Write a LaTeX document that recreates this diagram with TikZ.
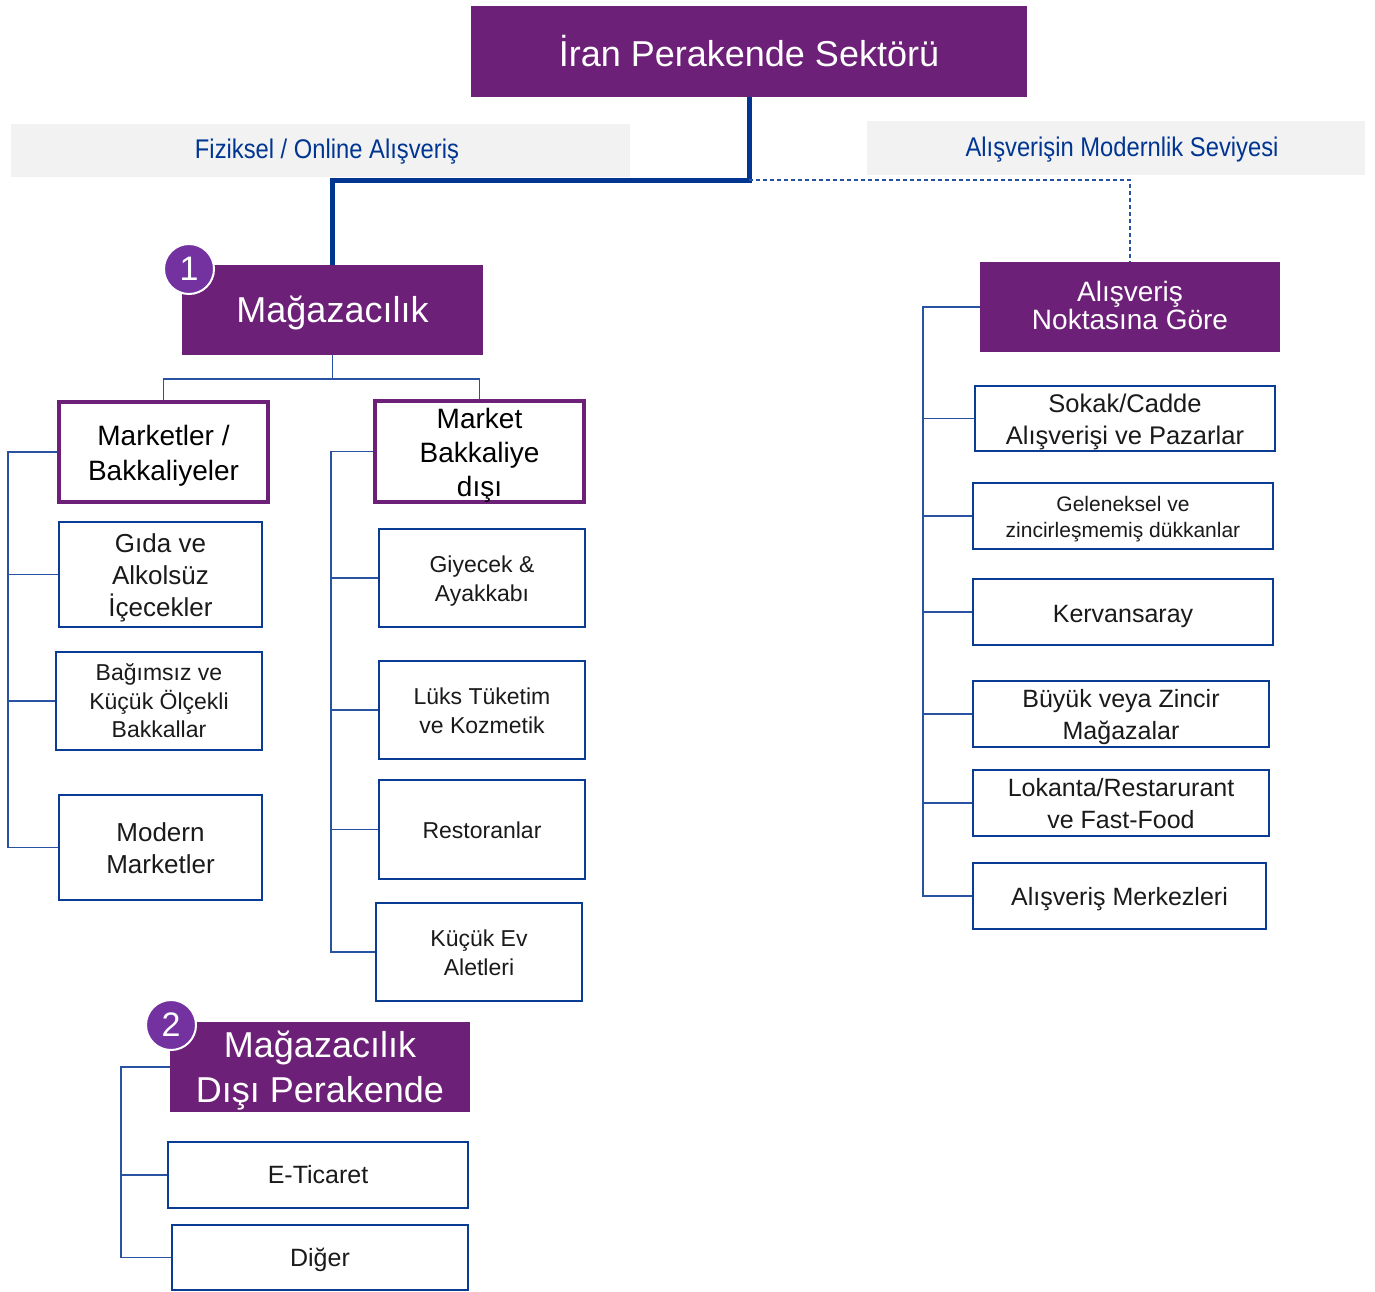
\documentclass[tikz,border=0pt]{standalone}
\usepackage{fontspec}
\setmainfont{Liberation Sans}
\newfontfamily\narrowfont[FakeStretch=0.88]{Liberation Sans}
\definecolor{purp}{HTML}{6D2077}
\definecolor{circ}{HTML}{7332A0}
\definecolor{dblue}{HTML}{003591}
\definecolor{bord}{HTML}{0B3C93}
\definecolor{conncol}{HTML}{2A52A3}
\definecolor{bandcol}{HTML}{F2F2F2}
\definecolor{txt}{HTML}{1A1A1A}
\newcommand\fsz[2]{\fontsize{#1pt}{#2pt}\selectfont}
\begin{document}
\begin{tikzpicture}[x=1pt,y=-1pt,
  box/.style={draw=bord,line width=2pt,fill=white,inner sep=0pt},
  pbox/.style={fill=purp,inner sep=0pt},
  hbox/.style={draw=purp,line width=4.5pt,fill=white,inner sep=0pt},
  lbl/.style={align=center,inner sep=0pt,text=txt},
  wlbl/.style={align=center,inner sep=0pt,text=white},
  klbl/.style={align=center,inner sep=0pt,text=black},
  badge/.style={circle,fill=circ,draw=white,line width=2pt,minimum size=50pt,inner sep=0pt,text=white,font=\fsz{34}{34}},
  link/.style={draw=conncol,line width=1.5pt},
  bandtext/.style={inner sep=0pt,text=dblue,font=\narrowfont\fsz{27}{30}}
]
\useasboundingbox (0,0) rectangle (1375,1291);
% grey bands
\fill[bandcol] (11,124) rectangle (630,177);
\fill[bandcol] (867,121) rectangle (1365,175);
\node[bandtext] (b1) at (327,152) {Fiziksel / Online Alışveriş};
\node[bandtext] (b2) at (1122,150) {Alışverişin Modernlik Seviyesi};

% main nodes
\node[pbox, minimum width=556, minimum height=91,
  label={[wlbl,font=\fsz{36}{40},yshift=0pt]center:İran Perakende Sektörü}] (top) at (749,51.5) {};
\node[pbox, minimum width=301, minimum height=90,
  label={[wlbl,font=\fsz{36}{40},yshift=-3pt]center:Mağazacılık}] (mag) at (332.5,310) {};
\node[pbox, minimum width=300, minimum height=90,
  label={[wlbl,font=\fsz{28}{28},yshift=2pt]center:{Alışveriş\\Noktasına Göre}}] (anok) at (1130,307) {};
\node[pbox, minimum width=300, minimum height=90,
  label={[wlbl,font=\fsz{36}{45},yshift=-4pt]center:{Mağazacılık\\Dışı Perakende}}] (mdp) at (320,1067) {};

% connectors
\coordinate (jt) at (749,180);
\draw[dblue, line width=5pt] (top.south) -- (jt) -| (mag.north);
\draw[dblue!85, line width=1.5pt, dash pattern=on 4pt off 3pt] (jt) -| (anok.north);

\node[hbox, minimum width=209, minimum height=100,
  label={[klbl,font=\fsz{28}{35},yshift=-4pt]center:{Marketler /\\Bakkaliyeler}}] (mkt) at (163.5,452) {};
\node[hbox, minimum width=209, minimum height=101,
  label={[klbl,font=\fsz{28}{34},yshift=-4pt]center:{Market\\Bakkaliye\\dışı}}] (mbd) at (479.5,451.5) {};

\coordinate (jm) at (332.5,379);
\draw[link] (mag.south) -- (jm);
\draw[link] (mkt.north) |- (jm) -| (mbd.north);

% left column
\node[box, minimum width=203, minimum height=105,
  label={[lbl,font=\fsz{26}{32},yshift=-3pt]center:{Gıda ve\\Alkolsüz\\İçecekler}}] (gida) at (160.5,574.5) {};
\node[box, minimum width=206, minimum height=98,
  label={[lbl,font=\fsz{23}{28.5}]center:{Bağımsız ve\\Küçük Ölçekli\\Bakkallar}}] (bag) at (159,701) {};
\node[box, minimum width=203, minimum height=105,
  label={[lbl,font=\fsz{26}{32},yshift=-1pt]center:{Modern\\Marketler}}] (modern) at (160.5,847.5) {};

% middle column
\node[box, minimum width=206, minimum height=98,
  label={[lbl,font=\fsz{23}{29},yshift=-3pt]center:{Giyecek \&\\Ayakkabı}}] (giy) at (482,578) {};
\node[box, minimum width=206, minimum height=98,
  label={[lbl,font=\fsz{23}{29},yshift=-1pt]center:{Lüks Tüketim\\ve Kozmetik}}] (luks) at (482,710) {};
\node[box, minimum width=206, minimum height=99,
  label={[lbl,font=\fsz{23}{29},yshift=-1pt]center:Restoranlar}] (rest) at (482,829.5) {};
\node[box, minimum width=206, minimum height=98,
  label={[lbl,font=\fsz{23}{29},yshift=-1pt]center:{Küçük Ev\\Aletleri}}] (kev) at (479,952) {};

% right column
\node[box, minimum width=300, minimum height=65,
  label={[lbl,font=\fsz{25.5}{32},yshift=-3pt]center:{Sokak/Cadde\\Alışverişi ve Pazarlar}}] (sokak) at (1125,418.5) {};
\node[box, minimum width=300, minimum height=66,
  label={[lbl,font=\fsz{21}{26},yshift=-3pt]center:{Geleneksel ve\\zincirleşmemiş dükkanlar}}] (gelen) at (1123,516) {};
\node[box, minimum width=300, minimum height=66,
  label={[lbl,font=\fsz{25}{32},yshift=-4pt]center:Kervansaray}] (kerv) at (1123,612) {};
\node[box, minimum width=296, minimum height=66,
  label={[lbl,font=\fsz{25}{32},yshift=-3pt]center:{Büyük veya Zincir\\Mağazalar}}] (buyuk) at (1121,714) {};
\node[box, minimum width=296, minimum height=66,
  label={[lbl,font=\fsz{25}{32},yshift=-1pt]center:{Lokanta/Restarurant\\ve Fast-Food}}] (lok) at (1121,803) {};
\node[box, minimum width=293, minimum height=66,
  label={[lbl,font=\fsz{25}{32},yshift=-3pt]center:Alışveriş Merkezleri}] (avm) at (1119.5,896) {};

% bottom
\node[box, minimum width=300, minimum height=66,
  label={[lbl,font=\fsz{25}{32}]center:E-Ticaret}] (etic) at (318,1175) {};
\node[box, minimum width=296, minimum height=65,
  label={[lbl,font=\fsz{25}{32},yshift=-2pt]center:Diğer}] (diger) at (320,1257.5) {};

% trunks
\coordinate (tl) at (8,0);
\coordinate (tm) at (331,0);
\coordinate (tr) at (923,0);
\coordinate (tb) at (121,0);

\draw[link] (mkt.west) -- (mkt.west -| tl) |- (modern.west);
\draw[link] (gida.west) -- (gida.west -| tl);
\draw[link] (bag.west) -- (bag.west -| tl);

\draw[link] (mbd.west) -- (mbd.west -| tm) |- (kev.west);
\draw[link] (giy.west) -- (giy.west -| tm);
\draw[link] (luks.west) -- (luks.west -| tm);
\draw[link] (rest.west) -- (rest.west -| tm);

\draw[link] (anok.west) -- (anok.west -| tr) |- (avm.west);
\draw[link] (sokak.west) -- (sokak.west -| tr);
\draw[link] (gelen.west) -- (gelen.west -| tr);
\draw[link] (kerv.west) -- (kerv.west -| tr);
\draw[link] (buyuk.west) -- (buyuk.west -| tr);
\draw[link] (lok.west) -- (lok.west -| tr);

\draw[link] (mdp.west) -- (mdp.west -| tb) |- (diger.west);
\draw[link] (etic.west) -- (etic.west -| tb);

% badges
\node[badge] (c1) at (189,269) {1};
\node[badge] (c2) at (171,1025) {2};
\end{tikzpicture}
\end{document}
